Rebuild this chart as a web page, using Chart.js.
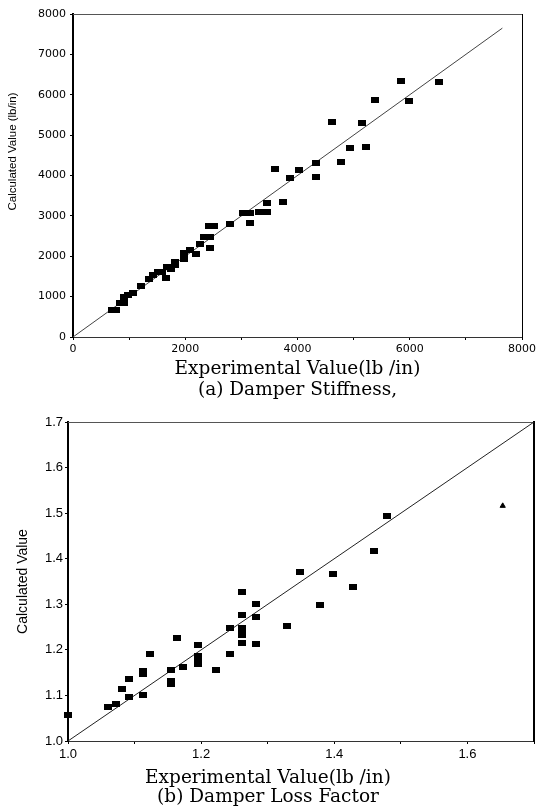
<!DOCTYPE html>
<html>
<head>
<meta charset="utf-8">
<title>Damper stiffness and loss factor</title>
<script src="https://cdn.jsdelivr.net/npm/chart.js@4.4.0/dist/chart.umd.min.js"></script>
<style>
body { margin: 0; background: #fff; }
#wrap { position: relative; width: 539px; height: 809px; }
canvas { position: absolute; left: 0; }
#chart1 { top: 0; }
#chart2 { top: 405px; }
</style>
</head>
<body>
<div id="wrap">
  <canvas id="chart1" width="539" height="405"></canvas>
  <canvas id="chart2" width="539" height="404"></canvas>
</div>
<script>
// (a) damper stiffness, lb/in
const stiffExp = [690, 768, 839, 916, 916, 988, 1064, 1214, 1363, 1434, 1512, 1583, 1661, 1673, 1750,
  1821, 1821, 1970, 1970, 2089, 2196, 2268, 2327, 2434, 2434, 2429, 2505, 2804, 3030, 3161,
  3161, 3321, 3458, 3458, 3744, 3595, 3875, 4030, 4327, 4327, 4619, 4768, 4929, 5149, 5226,
  5381, 5839, 5988, 6523];
const stiffCalc = [668, 668, 834, 849, 998, 1040, 1081, 1270, 1428, 1535, 1601, 1616, 1468, 1740, 1676,
  1864, 1782, 2087, 1923, 2153, 2054, 2295, 2468, 2483, 2210, 2755, 2755, 2797, 3077, 3077,
  2814, 3101, 3086, 3324, 3349, 4158, 3943, 4141, 4314, 3968, 5322, 4324, 4686, 5297, 4695,
  5866, 6344, 5834, 6312];
const stiffLine = [0, 7650];
const stiffXLabels = [0, 2000, 4000, 6000, 8000];
const stiffYLabels = [0, 1000, 2000, 3000, 4000, 5000, 6000, 7000, 8000];

// (b) damper loss factor
const lossExp = [1.000, 1.060, 1.072, 1.081, 1.092, 1.092, 1.112, 1.113, 1.113, 1.123, 1.154, 1.154, 1.154,
  1.163, 1.172, 1.195, 1.195, 1.195, 1.195, 1.223, 1.243, 1.243, 1.262, 1.262, 1.262, 1.262, 1.262, 1.262,
  1.282, 1.282, 1.282, 1.329, 1.349, 1.379, 1.398, 1.428, 1.459, 1.479];
const lossCalc = [1.056, 1.075, 1.082, 1.115, 1.135, 1.096, 1.102, 1.153, 1.147, 1.190, 1.156, 1.131, 1.124,
  1.227, 1.163, 1.210, 1.186, 1.179, 1.170, 1.155, 1.248, 1.191, 1.326, 1.276, 1.248, 1.241, 1.233, 1.215,
  1.301, 1.272, 1.212, 1.253, 1.370, 1.299, 1.367, 1.339, 1.418, 1.494];
const strayExp = [1.653];
const strayCalc = [1.516];
const lossLine = [1.0, 1.7];
const lossXLabels = ['1.0', '1.2', '1.4', '1.6'];
const lossYLabels = ['1.0', '1.1', '1.2', '1.3', '1.4', '1.5', '1.6', '1.7'];

const xTitle = 'Experimental Value(lb /in)';
const caption1 = '(a) Damper Stiffness,';
const caption2 = '(b) Damper Loss Factor';
const yTitle1 = 'Calculated Value (lb/in)';
const yTitle2 = 'Calculated Value';

// small black rectangle used as marker
function markImg(w, h) {
  const c = document.createElement('canvas');
  c.width = w;
  c.height = h;
  const g = c.getContext('2d');
  g.fillStyle = '#000';
  g.fillRect(0, 0, w, h);
  return c;
}
const mark = markImg(8, 6);

function pairs(xs, ys) {
  return xs.map((v, i) => ({ x: v, y: ys[i] }));
}

const serif = 'DejaVu Serif';
const sans = 'Liberation Sans';

// frame edges (top / right) as empty axes
function edgeAxis(pos, min, max, border) {
  return {
    type: 'linear', position: pos, min: min, max: max,
    ticks: { display: false },
    grid: { drawOnChartArea: false, drawTicks: false },
    border: border,
    afterFit: s => { if (pos === 'top') s.height = 0; else s.width = 0; }
  };
}

new Chart(document.getElementById('chart1'), {
  type: 'scatter',
  data: {
    datasets: [
      { data: pairs(stiffExp, stiffCalc), pointStyle: mark, pointRadius: 4,
        backgroundColor: '#000', borderColor: '#000', clip: false },
      { data: pairs(stiffLine, stiffLine), showLine: true, borderColor: '#444', borderWidth: 1,
        pointRadius: 0, fill: false }
    ]
  },
  options: {
    responsive: false,
    animation: false,
    layout: { padding: { top: 14, right: 17, left: 0, bottom: 0 } },
    plugins: { legend: { display: false }, tooltip: { enabled: false } },
    scales: {
      x: {
        type: 'linear', position: 'bottom', min: 0, max: 8000,
        ticks: {
          stepSize: 1000, autoSkip: false, maxRotation: 0, padding: 3, color: '#000',
          font: { family: 'DejaVu Sans', size: 11 },
          callback: v => stiffXLabels.includes(v) ? String(v) : ''
        },
        grid: { drawOnChartArea: false, tickLength: 3, color: '#000' },
        border: { color: '#333', width: 1, dash: [7, 2] },
        title: {
          display: true, text: [xTitle, caption1], color: '#000',
          font: { family: serif, size: 18.5, lineHeight: 21 / 18.5 },
          padding: { top: 0, bottom: 4.5 }
        },
        afterFit: s => { s.height = 68; }
      },
      y: {
        type: 'linear', position: 'left', min: 0, max: 8000,
        ticks: {
          stepSize: 1000, autoSkip: false, padding: 4, color: '#000',
          font: { family: 'DejaVu Sans', size: 11 },
          callback: v => stiffYLabels.includes(v) ? String(v) : ''
        },
        grid: { drawOnChartArea: false, tickLength: 3, color: '#000' },
        border: { color: '#000', width: 2 },
        title: {
          // leading spaces lift the rotated title to where the original sits
          display: true, text: '\u00a0'.repeat(15) + yTitle1, color: '#000',
          font: { family: sans, size: 11.5 },
          padding: { top: 6.2, bottom: 0 }
        },
        afterFit: s => { s.width = 73; }
      },
      x2: edgeAxis('top', 0, 8000, { color: '#555', width: 1, dash: [6, 4] }),
      y2: edgeAxis('right', 0, 8000, { color: '#000', width: 1 })
    }
  }
});

new Chart(document.getElementById('chart2'), {
  type: 'scatter',
  data: {
    datasets: [
      { data: pairs(lossExp, lossCalc), pointStyle: mark, pointRadius: 4,
        backgroundColor: '#000', borderColor: '#000', clip: false },
      { data: pairs(strayExp, strayCalc), pointStyle: 'triangle', pointRadius: 3,
        backgroundColor: '#000', borderColor: '#000' },
      { data: pairs(lossLine, lossLine), showLine: true, borderColor: '#222', borderWidth: 1,
        pointRadius: 0, fill: false }
    ]
  },
  options: {
    responsive: false,
    animation: false,
    layout: { padding: { top: 17, right: 3, left: 0, bottom: 0 } },
    plugins: {
      legend: { display: false },
      tooltip: { enabled: false },
      title: {
        display: true, position: 'bottom', fullSize: true, text: [xTitle, caption2], color: '#000',
        font: { family: serif, size: 18.5, weight: 'normal', lineHeight: 19 / 18.5 },
        padding: { top: 0.5, bottom: 2.5 }
      }
    },
    scales: {
      x: {
        type: 'linear', position: 'bottom', min: 1, max: 1.7,
        ticks: {
          stepSize: 0.1, autoSkip: false, maxRotation: 0, padding: 3, color: '#000',
          font: { family: sans, size: 13 },
          callback: v => { const s = v.toFixed(1); return lossXLabels.includes(s) ? s : ''; }
        },
        grid: { drawOnChartArea: false, tickLength: 3, color: '#000' },
        border: { color: '#333', width: 1, dash: [7, 2] },
        afterFit: s => { s.height = 27; }
      },
      y: {
        type: 'linear', position: 'left', min: 1, max: 1.7,
        ticks: {
          stepSize: 0.1, autoSkip: false, padding: 2, color: '#000',
          font: { family: sans, size: 13 },
          callback: v => { const s = v.toFixed(1); return lossYLabels.includes(s) ? s : ''; }
        },
        grid: { drawOnChartArea: false, tickLength: 3, color: '#000' },
        border: { color: '#000', width: 2 },
        title: {
          display: true, text: yTitle2, color: '#000',
          font: { family: sans, size: 14 },
          padding: { top: 14.6, bottom: 0 }
        },
        afterFit: s => { s.width = 68; }
      },
      x2: edgeAxis('top', 1, 1.7, { color: '#555', width: 1, dash: [6, 4] }),
      y2: edgeAxis('right', 1, 1.7, { color: '#000', width: 2 })
    }
  }
});
</script>
</body>
</html>
